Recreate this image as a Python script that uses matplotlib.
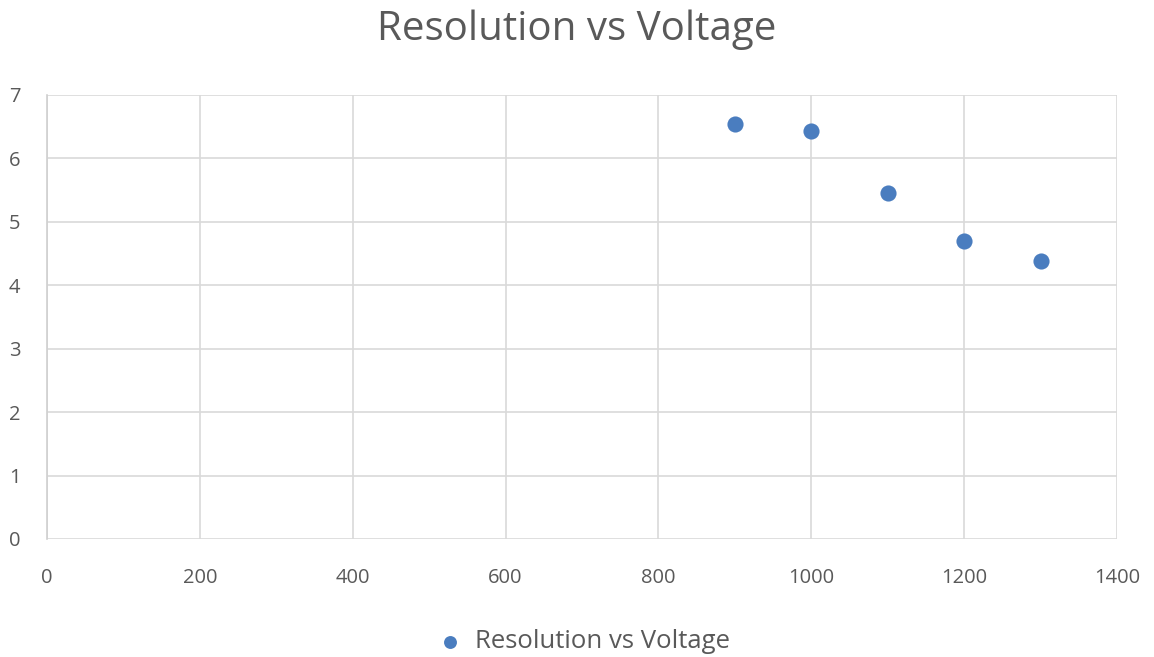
import matplotlib.pyplot as plt

# Dados
voltage = [900, 1000, 1100, 1200, 1300]
resolution = [6.54, 6.44, 5.46, 4.70, 4.38]
x_ticks = [0, 200, 400, 600, 800, 1000, 1200, 1400]
y_ticks = [0, 1, 2, 3, 4, 5, 6, 7]

plt.rcParams['font.family'] = ['Open Sans', 'DejaVu Sans']

fig = plt.figure(figsize=(11.54, 6.57), dpi=100)
ax = fig.add_axes([47/1154, 1 - 539/657, (1117 - 47)/1154, (539 - 95)/657])

ax.scatter(voltage, resolution, s=135, color="#4a7dbf", zorder=3,
           label="Resolution vs Voltage", linewidths=0)

ax.set_xlim(0, 1400)
ax.set_ylim(0, 7)
ax.set_xticks(x_ticks)
ax.set_yticks(y_ticks)
ax.grid(True, color="#d9d9d9", linewidth=1.2)
ax.set_axisbelow(True)
for side in ["top", "right", "bottom"]:
    ax.spines[side].set_visible(False)
ax.spines["left"].set_color("#d0d0d0")
ax.spines["left"].set_linewidth(1.2)
ax.tick_params(length=0, labelsize=14.5, colors="#595959")
ax.tick_params(axis="x", pad=21)
ax.tick_params(axis="y", pad=19)

fig.suptitle("Resolution vs Voltage", fontsize=29, color="#595959", y=0.985)

fig.legend(loc="center", bbox_to_anchor=(0.5, 1 - 642/657), frameon=False,
           fontsize=18.5, labelcolor="#595959", handletextpad=0.0, markerscale=0.8)

fig.savefig("out.png", dpi=100)
